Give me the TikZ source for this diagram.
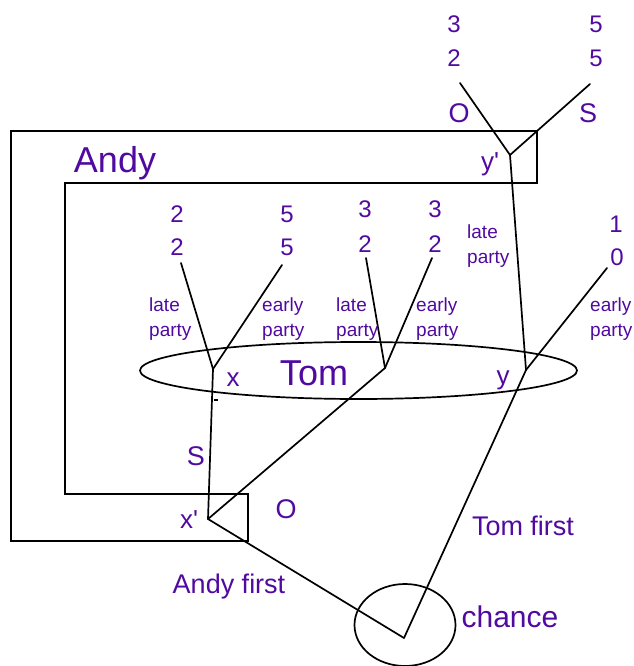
\documentclass[tikz,border=0pt]{standalone}
\usepackage{fontspec}
\setmainfont{Liberation Sans}
\definecolor{txt}{RGB}{80,10,160}
\tikzset{
  edge/.style={line width=1.7pt, line cap=round, line join=round},
  frame/.style={line width=1.7pt, line join=miter},
  lab/.style={text=txt, inner sep=0pt, anchor=base},
  labw/.style={text=txt, inner sep=0pt, anchor=base west},
  pay/.style={lab, font=\fontsize{24}{28}\selectfont},
  act/.style={lab, font=\fontsize{27}{30}\selectfont},
  small/.style={labw, font=\fontsize{19}{22}\selectfont},
  big/.style={lab, font=\fontsize{36}{40}\selectfont},
  var/.style={lab, font=\fontsize{26}{30}\selectfont},
}
\begin{document}
\begin{tikzpicture}[x=1pt,y=-1pt]
\useasboundingbox (0,0) rectangle (633,666);

% Andy's information set (L-shaped frame)
\draw[frame] (11,131) -- (537,131) -- (537,183) -- (65,183) -- (65,494)
  -- (248,494) -- (248,541) -- (11,541) -- cycle;

% Tom's information set
\draw[line width=1.7pt] (358.5,370.5) ellipse [x radius=218.5, y radius=28.5];

% chance node
\draw[line width=1.7pt] (405,625) ellipse [x radius=50.5, y radius=41];

% decision points
\coordinate (ch) at (404,638);
\coordinate (xp) at (208,519);
\coordinate (yp) at (510,155);
\coordinate (x) at (213,369);
\coordinate (m) at (385,368);
\coordinate (y) at (526,370);

% leaves
\coordinate (lO) at (460,83);
\coordinate (lS) at (590,84);
\coordinate (l1) at (181,263);
\coordinate (l2) at (282,265);
\coordinate (l3) at (366,258);
\coordinate (l4) at (432,258);
\coordinate (l5) at (607,268);

% branches
\draw[edge] (ch) -- (xp);
\draw[edge] (ch) -- (y);
\draw[edge] (xp) -- (x);
\draw[edge] (xp) -- (m);
\draw[edge] (yp) -- (y);
\draw[edge] (yp) -- (lO);
\draw[edge] (yp) -- (lS);
\draw[edge] (x) -- (l1);
\draw[edge] (x) -- (l2);
\draw[edge] (m) -- (l3);
\draw[edge] (m) -- (l4);
\draw[edge] (y) -- (l5);
\coordinate (tickA) at (213.5,400);
\coordinate (tickB) at (218,400);
\draw[line width=1.3pt] (tickA) -- (tickB);

% payoffs
\node[pay] (p1a) at (454,33) {3};
\node[pay] (p1b) at (454,67) {2};
\node[pay] (p2a) at (596,33) {5};
\node[pay] (p2b) at (596,67) {5};
\node[pay] (p3a) at (177,222) {2};
\node[pay] (p3b) at (177,255) {2};
\node[pay] (p4a) at (287,222) {5};
\node[pay] (p4b) at (287,255) {5};
\node[pay] (p5a) at (365,217) {3};
\node[pay] (p5b) at (365,252) {2};
\node[pay] (p6a) at (435,217) {3};
\node[pay] (p6b) at (435,252) {2};
\node[pay] (p7a) at (616,232) {1};
\node[pay] (p7b) at (617,265) {0};

% actions
\node[act] (aO) at (459,122) {O};
\node[act] (aS) at (588,123) {S};
\node[act] (bS) at (196,465) {S};
\node[act] (bO) at (286,518) {O};

\node[small] (t1a) at (467,238) {late};
\node[small] (t1b) at (467,263) {party};
\node[small] (t2a) at (149,311) {late};
\node[small] (t2b) at (149,336) {party};
\node[small] (t3a) at (262,311) {early};
\node[small] (t3b) at (262,336) {party};
\node[small] (t4a) at (336,311) {late};
\node[small] (t4b) at (336,336) {party};
\node[small] (t5a) at (416,311) {early};
\node[small] (t5b) at (416,336) {party};
\node[small] (t6a) at (590,311) {early};
\node[small] (t6b) at (590,336) {party};

% players and node names
\node[big] (andy) at (115,172) {Andy};
\node[big] (tom) at (314,385) {Tom};
\node[var] (nx) at (233,386) {x};
\node[var] (ny) at (503,384) {y};
\node[var] (nxp) at (189,528) {x\textquotesingle};
\node[var] (nyp) at (490,170) {y\textquotesingle};

% chance moves
\node[act] (tf) at (523,535) {Tom first};
\node[act] (af) at (229,593) {Andy first};
\node[lab, font=\fontsize{30}{34}\selectfont] (chn) at (510,627) {chance};
\end{tikzpicture}
\end{document}
